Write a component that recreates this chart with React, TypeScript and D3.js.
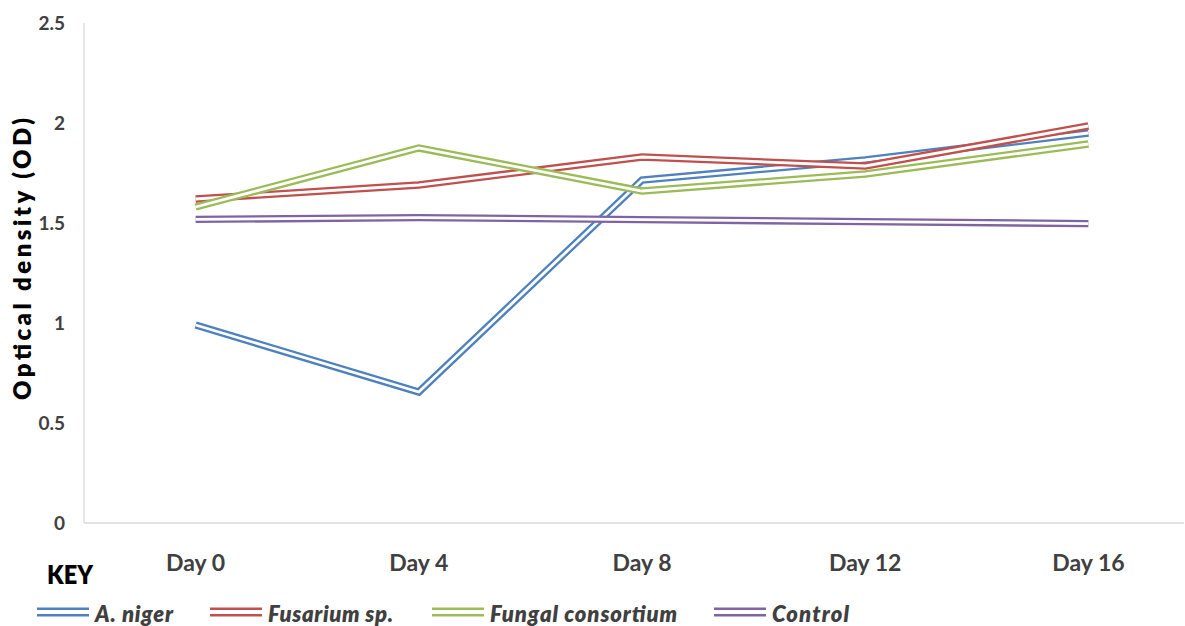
import React from "react";
import * as d3 from "d3";

// Sampling days along the x axis
const days = ["Day 0", "Day 4", "Day 8", "Day 12", "Day 16"];

// Optical density readings per treatment
const aNiger = [0.99, 0.655, 1.715, 1.815, 1.95];
const fusarium = [1.62, 1.69, 1.83, 1.785, 1.985];
const consortium = [1.58, 1.875, 1.66, 1.745, 1.895];
const control = [1.518, 1.527, 1.517, 1.507, 1.497];

const yTicks = [0, 0.5, 1, 1.5, 2, 2.5];

const seriesNames = ["A. niger", "Fusarium sp.", "Fungal consortium", "Control"];
const seriesValues = [aNiger, fusarium, consortium, control];
const seriesColors = ["#4f81bd", "#c0504d", "#9bbb59", "#8064a2"];

// Legend layout: start of each swatch and the width of each label
const legendX = [37, 210, 432, 714];
const legendTextW = [78, 125, 187, 77];

const W = 1185;
const H = 626;
const plotLeft = 84;
const plotRight = 1200;
const plotTop = 23;
const plotBottom = 523;

const FONT = "Lato, 'Open Sans', sans-serif";

export default function App() {
  const x = d3.scalePoint<string>().domain(days).range([plotLeft, plotRight]).padding(0.5);
  const y = d3.scaleLinear().domain([0, 2.5]).range([plotBottom, plotTop]);
  const line = d3
    .line<number>()
    .x((_, i) => x(days[i]) as number)
    .y((d) => y(d));

  return (
    <svg
      width={W}
      height={H}
      style={{ position: "absolute", left: 0, top: 0, background: "#fff" }}
      fontFamily={FONT}
    >
      {/* axes */}
      <line x1={plotLeft} x2={plotLeft} y1={plotTop} y2={plotBottom} stroke="#d9d9d9" strokeWidth={1.3} />
      <line x1={plotLeft} x2={W - 1} y1={plotBottom} y2={plotBottom} stroke="#d9d9d9" strokeWidth={1.3} />

      {/* y tick labels */}
      {yTicks.map((t) => (
        <text
          key={t}
          x={65}
          y={y(t)}
          dy="0.36em"
          textAnchor="end"
          fontSize={19}
          fontWeight={700}
          fill="#404040"
        >
          {t}
        </text>
      ))}

      {/* x tick labels */}
      {days.map((d) => (
        <text key={d} x={x(d)} y={571} textAnchor="middle" fontSize={23} fontWeight={700} fill="#404040">
          {d}
        </text>
      ))}

      {/* y axis title */}
      <text
        transform={`translate(31,259) rotate(-90)`}
        textAnchor="middle"
        fontSize={24}
        fontWeight={800}
        fill="#000"
        textLength={282}
        lengthAdjust="spacing"
      >
        Optical density (OD)
      </text>

      {/* series drawn as double lines */}
      {seriesValues.map((vals, i) => (
        <g key={seriesNames[i]}>
          <path
            d={line(vals) as string}
            fill="none"
            stroke={seriesColors[i]}
            strokeWidth={7.4}
            strokeLinejoin="miter"
          />
          <path d={line(vals) as string} fill="none" stroke="#fff" strokeWidth={2.8} strokeLinejoin="miter" />
        </g>
      ))}

      {/* legend */}
      <text x={47} y={584} fontSize={27} fontWeight={800} fill="#000" textLength={46} lengthAdjust="spacingAndGlyphs">
        KEY
      </text>
      {seriesNames.map((name, i) => (
        <g key={name}>
          <line x1={legendX[i]} x2={legendX[i] + 52} y1={612} y2={612} stroke={seriesColors[i]} strokeWidth={9} />
          <line x1={legendX[i]} x2={legendX[i] + 52} y1={612} y2={612} stroke="#fff" strokeWidth={4} />
          <text
            x={legendX[i] + 58}
            y={622}
            fontSize={22}
            fontWeight={800}
            fontStyle="italic"
            fill="#404040"
            textLength={legendTextW[i]}
            lengthAdjust="spacing"
          >
            {name}
          </text>
        </g>
      ))}
    </svg>
  );
}
